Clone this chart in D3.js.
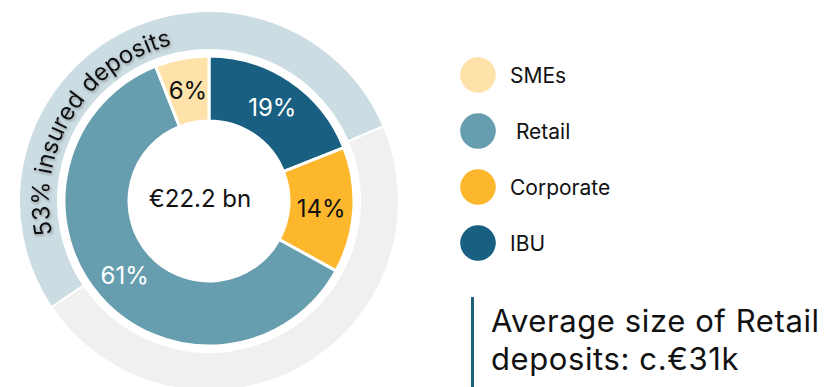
<!DOCTYPE html>
<html>
<head>
<meta charset="utf-8">
<script src="https://cdn.jsdelivr.net/npm/d3@7"></script>
<style>
  html, body { margin: 0; padding: 0; background: #ffffff; }
  svg { display: block; font-family: "Inter", "Open Sans", sans-serif; }
</style>
</head>
<body>
<svg id="chart" width="833" height="387"></svg>
<script>
// Deposit mix by segment (share of total, %)
const segments = ["IBU", "Corporate", "Retail", "SMEs"];
const segmentShares = [19, 14, 61, 6];
const segmentColors = ["#185f82", "#fdb72c", "#679eaf", "#fee2a9"];
const labelColors = ["#ffffff", "#111111", "#ffffff", "#111111"];

// Legend order
const legendItems = ["SMEs", "Retail", "Corporate", "IBU"];
const legendLabels = ["SMEs", "\u00a0Retail", "Corporate", "IBU"];

// Insured vs uninsured deposits (%)
const coverage = ["Insured", "Uninsured"];
const coverageShares = [53, 47];
const coverageColors = ["#cbdde3", "#f0f0f0"];

const totalLabel = "\u20ac22.2 bn";
const insuredLabel = "53% insured deposits";
const noteLines = ["Average size of Retail", "deposits: c.\u20ac31k"];

const svg = d3.select("#chart");
const cx = 209, cy = 201;
const rHole = 80, rInner = 145, rRingIn = 151, rRingOut = 190;
const deg = Math.PI / 180;

const defs = svg.append("defs");
const shadow = defs.append("filter").attr("id", "soft-shadow")
  .attr("x", "-20%").attr("y", "-20%").attr("width", "140%").attr("height", "140%");
shadow.append("feDropShadow")
  .attr("dx", 1).attr("dy", 1.5).attr("stdDeviation", 1.6)
  .attr("flood-color", "#555").attr("flood-opacity", 0.55);

const g = svg.append("g").attr("transform", `translate(${cx},${cy})`);

// Outer ring: insured share, centred around the upper-left side
const ringMid = 331.4 * deg;
const insuredSpan = coverageShares[0] / d3.sum(coverageShares) * 2 * Math.PI;
const ringStart = ringMid - insuredSpan / 2;
const ringPie = d3.pie().sort(null).value(d => d)
  .startAngle(ringStart).endAngle(ringStart + 2 * Math.PI);
const ringArc = d3.arc().innerRadius(rRingIn).outerRadius(rRingOut);

g.selectAll("path.ring")
  .data(ringPie(coverageShares))
  .join("path")
  .attr("class", "ring")
  .attr("d", ringArc)
  .attr("fill", (d, i) => coverageColors[i])
  .attr("stroke", "#ffffff")
  .attr("stroke-width", 2);

// Inner donut: deposit mix by segment
const pie = d3.pie().sort(null).value(d => d);
const arc = d3.arc().innerRadius(rHole).outerRadius(rInner);
const arcs = pie(segmentShares);

g.selectAll("path.seg")
  .data(arcs)
  .join("path")
  .attr("class", "seg")
  .attr("d", arc)
  .attr("fill", (d, i) => segmentColors[i])
  .attr("stroke", "#ffffff")
  .attr("stroke-width", 3);

g.selectAll("text.pct")
  .data(arcs)
  .join("text")
  .attr("class", "pct")
  .attr("transform", d => `translate(${arc.centroid(d)})`)
  .attr("text-anchor", "middle")
  .attr("dominant-baseline", "central")
  .attr("font-size", 24)
  .attr("fill", (d, i) => labelColors[i])
  .text(d => d.data + "%");

g.append("text")
  .attr("x", -9).attr("y", -3)
  .attr("text-anchor", "middle")
  .attr("dominant-baseline", "central")
  .attr("font-size", 24)
  .attr("fill", "#111111")
  .text(totalLabel);

// Curved caption along the outer ring, one textPath per word
const captionSize = 24;
const rText = 160;
const textPath = d3.path();
textPath.arc(0, 0, rText, (258 - 90) * deg, (375 - 90) * deg, false);
defs.append("path").attr("id", "insured-path")
  .attr("d", textPath.toString())
  .attr("transform", `translate(${cx},${cy})`);

const measure = svg.append("text").attr("font-size", captionSize);
const widthOf = s => { measure.text(s); return measure.node().getComputedTextLength(); };
const spaceW = widthOf("a a") - widthOf("aa");
const words = insuredLabel.split(" ");
let offset = 0;
const wordOffsets = words.map(w => { const o = offset; offset += widthOf(w) + spaceW; return o; });
measure.remove();

svg.append("g").selectAll("text")
  .data(words)
  .join("text")
  .attr("font-size", captionSize)
  .attr("fill", "#111111")
  .attr("filter", "url(#soft-shadow)")
  .append("textPath")
  .attr("href", "#insured-path")
  .attr("startOffset", (d, i) => wordOffsets[i])
  .text(d => d);

// Legend
const legendY = d3.scalePoint().domain(legendItems).range([75, 243]);
const colorBySegment = d3.scaleOrdinal().domain(segments).range(segmentColors);
const legend = svg.append("g");
legend.selectAll("circle")
  .data(legendItems)
  .join("circle")
  .attr("cx", 478)
  .attr("cy", d => legendY(d))
  .attr("r", 17.8)
  .attr("fill", d => colorBySegment(d));
legend.selectAll("text")
  .data(legendItems)
  .join("text")
  .attr("x", 510)
  .attr("y", d => legendY(d))
  .attr("dominant-baseline", "central")
  .attr("font-size", 21)
  .attr("fill", "#111111")
  .text((d, i) => legendLabels[i]);

// Note with accent bar
svg.append("rect")
  .attr("x", 471).attr("y", 297)
  .attr("width", 3).attr("height", 90)
  .attr("fill", "#1d5f78");
svg.append("text")
  .attr("font-size", 31)
  .attr("letter-spacing", 0.6)
  .attr("fill", "#111111")
  .selectAll("tspan")
  .data(noteLines)
  .join("tspan")
  .attr("x", 491)
  .attr("y", (d, i) => 332 + i * 38)
  .text(d => d);
</script>
</body>
</html>
